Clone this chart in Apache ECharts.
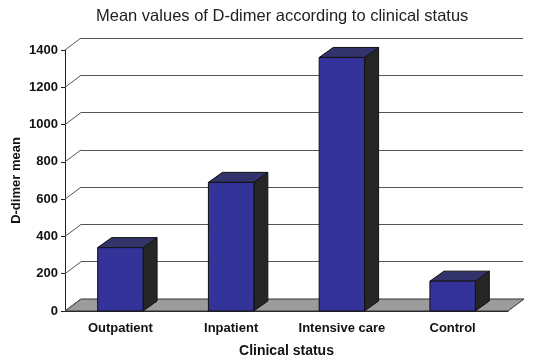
<!DOCTYPE html>
<html>
<head>
<meta charset="utf-8">
<script src="https://cdn.jsdelivr.net/npm/echarts@6/dist/echarts.min.js"></script>
<style>
  html, body { margin: 0; padding: 0; background: #fff; }
  #main { width: 533px; height: 360px; }
</style>
</head>
<body>
<div id="main"></div>
<script>
const categories = ['Outpatient', 'Inpatient', 'Intensive care', 'Control'];
const meanValues = [340, 690, 1360, 160];
const yTicks = [0, 200, 400, 600, 800, 1000, 1200, 1400];

// depth offsets for the fake 3d look
const wallDx = 16;
const wallDy = -12;
const barDx = 14;
const barDy = -10;

const myChart = echarts.init(document.getElementById('main'));

const renderFloor = (params, api) => {
  const cs = params.coordSys;
  const y0 = cs.y + cs.height;
  return {
    type: 'polygon',
    shape: {
      points: [
        [cs.x, y0],
        [cs.x + cs.width, y0],
        [cs.x + cs.width + wallDx, y0 + wallDy],
        [cs.x + wallDx, y0 + wallDy],
      ],
    },
    style: { fill: '#9c9c9c', stroke: '#333', lineWidth: 1 },
  };
};

const renderConnector = (params, api) => {
  const cs = params.coordSys;
  const y = api.coord([0, api.value(0)])[1];
  return {
    type: 'line',
    shape: { x1: cs.x, y1: y, x2: cs.x + wallDx, y2: y + wallDy },
    style: { stroke: '#555', lineWidth: 1 },
  };
};

const renderBar = (params, api) => {
  const idx = api.value(0);
  const top = api.coord([idx, api.value(1)]);
  const base = api.coord([idx, 0]);
  const w = api.size([1, 0])[0] * 0.41;
  const x0 = top[0] - w / 2;
  const x1 = top[0] + w / 2;
  const yt = top[1];
  const yb = base[1];
  return {
    type: 'group',
    children: [
      {
        type: 'polygon',
        shape: { points: [[x1, yb], [x1 + barDx, yb + barDy], [x1 + barDx, yt + barDy], [x1, yt]] },
        style: { fill: '#262626', stroke: '#111', lineWidth: 1 },
      },
      {
        type: 'polygon',
        shape: { points: [[x0, yt], [x1, yt], [x1 + barDx, yt + barDy], [x0 + barDx, yt + barDy]] },
        style: { fill: '#33336b', stroke: '#111', lineWidth: 1 },
      },
      {
        type: 'rect',
        shape: { x: x0, y: yt, width: w, height: yb - yt },
        style: { fill: '#333399', stroke: '#111', lineWidth: 1 },
      },
    ],
  };
};

const axisFont = {
  fontFamily: 'Liberation Sans, Arial, sans-serif',
  fontWeight: 'bold',
  fontSize: 13,
  color: '#111',
};

const option = {
  animation: false,
  backgroundColor: '#fff',
  title: {
    text: 'Mean values of D-dimer according to clinical status',
    left: 91,
    top: 3,
    textStyle: {
      fontFamily: 'Liberation Sans, Arial, sans-serif',
      fontWeight: 'normal',
      fontSize: 16.5,
      color: '#222',
    },
  },
  grid: [
    { left: 65, right: 25, top: 50, bottom: 49, outerBoundsMode: 'none' },
    { left: 65 + wallDx, right: 10, top: 50 + wallDy, bottom: 49 - wallDy, outerBoundsMode: 'none' },
  ],
  xAxis: [
    {
      type: 'category',
      gridIndex: 0,
      data: categories,
      name: 'Clinical status',
      nameLocation: 'middle',
      nameGap: 33,
      nameTextStyle: Object.assign({}, axisFont, { fontSize: 14 }),
      axisLine: { lineStyle: { color: '#222' } },
      axisTick: { length: 5, lineStyle: { color: '#222' } },
      axisLabel: Object.assign({ margin: 11, interval: 0 }, axisFont),
    },
    {
      type: 'category',
      gridIndex: 1,
      data: categories,
      show: false,
    },
  ],
  yAxis: [
    {
      type: 'value',
      gridIndex: 0,
      min: 0,
      max: 1400,
      interval: 200,
      name: 'D-dimer mean',
      nameLocation: 'middle',
      nameGap: 42,
      nameMoveOverlap: false,
      nameTextStyle: axisFont,
      axisLine: { show: true, lineStyle: { color: '#222' } },
      axisTick: { show: true, length: 4, lineStyle: { color: '#222' } },
      axisLabel: Object.assign({ margin: 7, formatter: (v) => String(v) }, axisFont),
      splitLine: { show: false },
    },
    {
      type: 'value',
      gridIndex: 1,
      min: 0,
      max: 1400,
      interval: 200,
      axisLine: { show: false },
      axisTick: { show: false },
      axisLabel: { show: false },
      splitLine: { show: true, lineStyle: { color: '#555', width: 1 } },
    },
  ],
  series: [
    {
      type: 'custom',
      name: 'floor',
      xAxisIndex: 0,
      yAxisIndex: 0,
      renderItem: renderFloor,
      data: [[0, 0]],
      z: 1,
      silent: true,
    },
    {
      type: 'custom',
      name: 'connectors',
      xAxisIndex: 0,
      yAxisIndex: 0,
      renderItem: renderConnector,
      encode: { y: 0 },
      data: yTicks.map((v) => [v]),
      z: 1,
      silent: true,
    },
    {
      type: 'custom',
      name: 'D-dimer mean',
      xAxisIndex: 0,
      yAxisIndex: 0,
      renderItem: renderBar,
      encode: { x: 0, y: 1 },
      data: meanValues.map((v, i) => [i, v]),
      z: 3,
    },
  ],
};
myChart.setOption(option);
</script>
</body>
</html>
